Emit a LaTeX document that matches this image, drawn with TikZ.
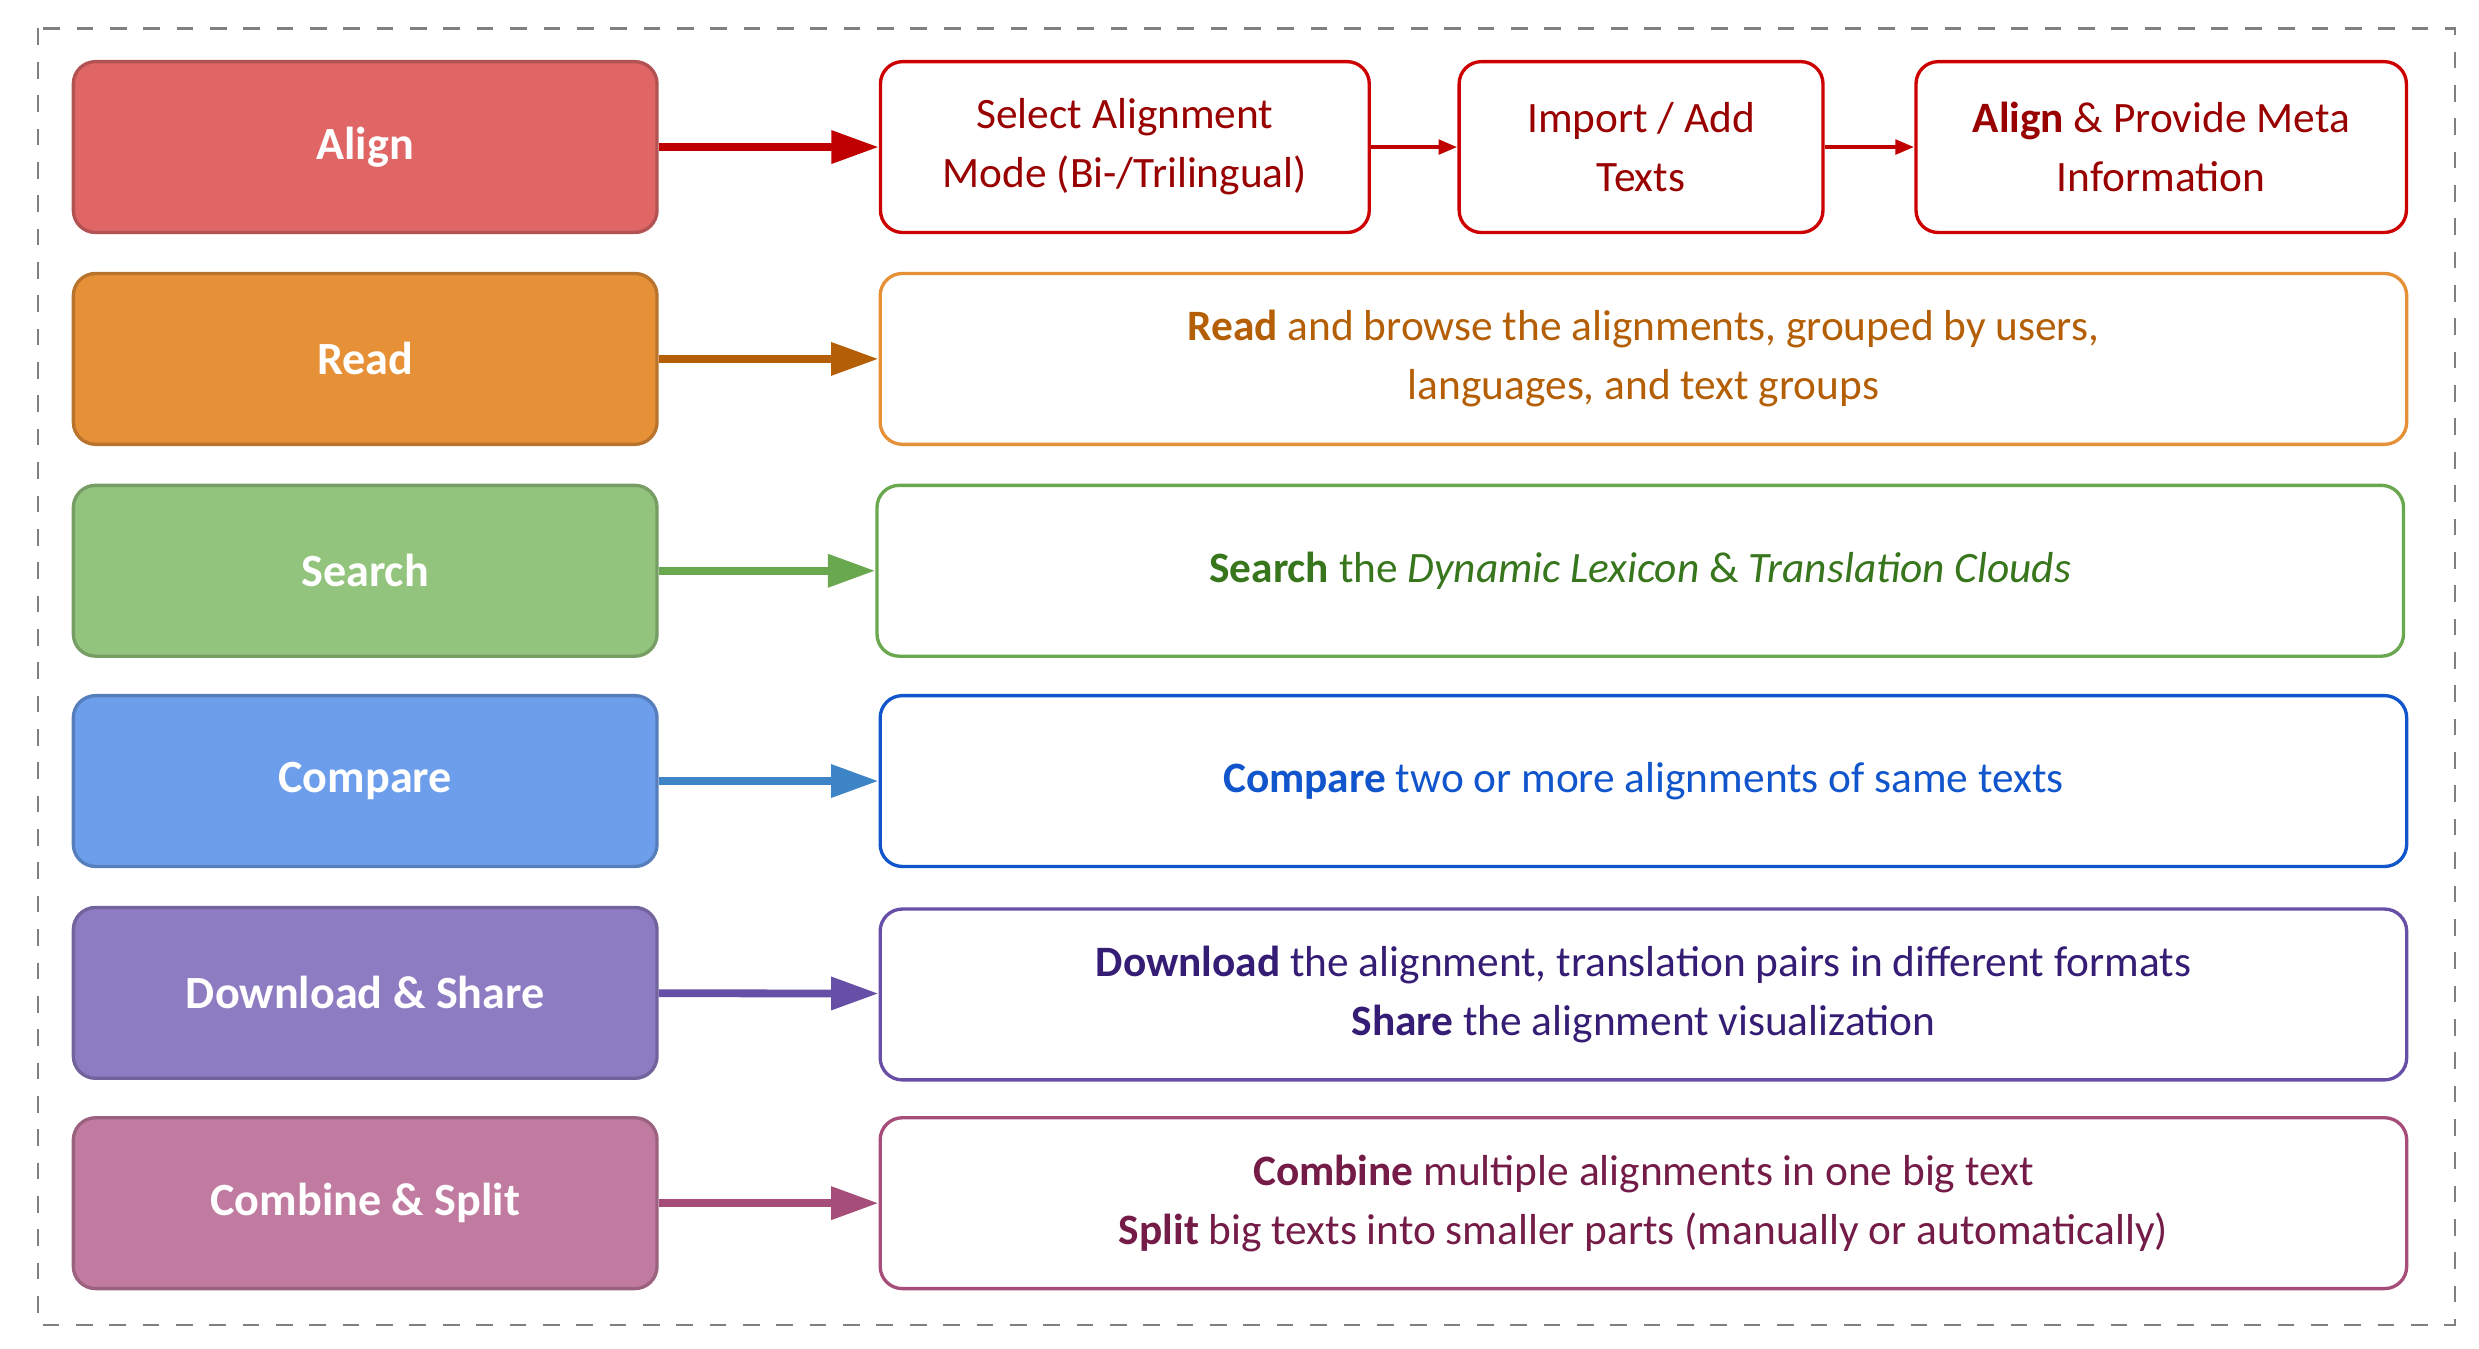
\documentclass[tikz,border=0pt]{standalone}
\usepackage{fontspec}
\setmainfont{Carlito}
\usetikzlibrary{arrows.meta}
\definecolor{rA}{HTML}{E06666}\definecolor{rAs}{HTML}{CC0000}\definecolor{rAa}{HTML}{C00000}\definecolor{rAt}{HTML}{990000}
\definecolor{oA}{HTML}{E69138}\definecolor{oAs}{HTML}{D07F25}\definecolor{oAa}{HTML}{B45F06}
\definecolor{gA}{HTML}{93C47D}\definecolor{gAs}{HTML}{6AA84F}\definecolor{gAt}{HTML}{38761D}
\definecolor{bA}{HTML}{6D9EEB}\definecolor{bAs}{HTML}{3D85C6}\definecolor{bAt}{HTML}{1155CC}
\definecolor{pA}{HTML}{8E7CC3}\definecolor{pAs}{HTML}{674EA7}\definecolor{pAt}{HTML}{351C75}
\definecolor{mA}{HTML}{C27BA0}\definecolor{mAs}{HTML}{A64D79}\definecolor{mAt}{HTML}{741B47}
\begin{document}
\begin{tikzpicture}[x=0.01cm,y=-0.01cm,
 lb/.style={draw=#1!80!black,fill=#1,rounded corners=0.14cm,minimum width=3.69cm,minimum height=1.08cm,text=white,font=\fontsize{8.3}{10}\selectfont\bfseries,line width=0.6pt},
 rb/.style={draw=#1,fill=white,rounded corners=0.14cm,minimum height=1.08cm,align=center,font=\fontsize{7.8}{10.6}\selectfont,line width=0.6pt},
 ar/.style={draw=#1,line width=1.4pt,-{Triangle[length=0.3cm,width=0.2cm]}},
 sa/.style={draw=rAa,line width=0.8pt,-{Triangle[length=0.12cm,width=0.09cm]}}]
\useasboundingbox (0,0) rectangle (1568,853);
\draw[dashed,gray,line width=0.4pt] (24,18) rectangle (1553,838);
\node[lb=rA] (l1) at (231,93) {Align};
\node[lb=oA] (l2) at (231,227) {Read};
\node[lb=gA] (l3) at (231,361) {Search};
\node[lb=bA] (l4) at (231,494) {Compare};
\node[lb=pA] (l5) at (231,628) {Download \& Share};
\node[lb=mA] (l6) at (231,761) {Combine \& Split};
\node[rb=rAs,text=rAt,minimum width=3.09cm] (a1) at (711.5,93) {Select Alignment\\Mode (Bi-/Trilingual)};
\node[rb=rAs,text=rAt,minimum width=2.30cm] (a2) at (1038,93) {Import / Add\\Texts};
\node[rb=rAs,text=rAt,minimum width=3.10cm] (a3) at (1367,93) {\textbf{Align} \& Provide Meta\\Information};
\node[rb=oA,text=oAa,minimum width=9.65cm] (r2) at (1039.5,227) {\textbf{Read} and browse the alignments, grouped by users,\\languages, and text groups};
\node[rb=gAs,text=gAt,minimum width=9.65cm] (r3) at (1037.5,361) {\textbf{Search} the \textit{Dynamic Lexicon} \& \textit{Translation Clouds}};
\node[rb=bAt,text=bAt,minimum width=9.65cm] (r4) at (1039.5,494) {\textbf{Compare} two or more alignments of same texts};
\node[rb=pAs,text=pAt,minimum width=9.65cm] (r5) at (1039.5,629) {\textbf{Download} the alignment, translation pairs in different formats\\\textbf{Share} the alignment visualization};
\node[rb=mAs,text=mAt,minimum width=9.65cm] (r6) at (1039.5,761) {\textbf{Combine} multiple alignments in one big text\\\textbf{Split} big texts into smaller parts (manually or automatically)};
\draw[ar=rAa] (l1) -- (a1);
\draw[ar=oAa] (l2) -- (r2);
\draw[ar=gAs] (l3) -- (r3);
\draw[ar=bAs] (l4) -- (r4);
\draw[ar=pAs] (l5) -- (r5);
\draw[ar=mAs] (l6) -- (r6);
\draw[sa] (a1) -- (a2);
\draw[sa] (a2) -- (a3);
\end{tikzpicture}
\end{document}
